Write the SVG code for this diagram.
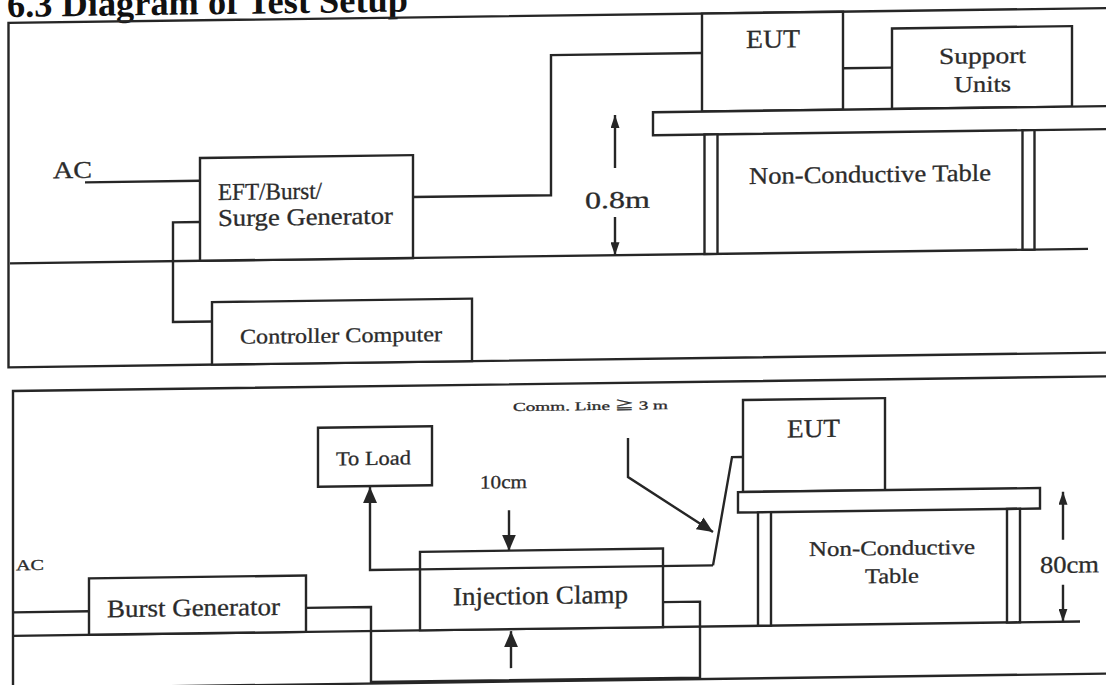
<svg xmlns="http://www.w3.org/2000/svg" width="1106" height="685" viewBox="0 0 1106 685">
<defs>
<style>
.ln{fill:none;stroke:#262626;stroke-width:2.4}
.bx{fill:#fff;stroke:#262626;stroke-width:2.4}
.t{font-family:"Liberation Serif","Times New Roman","Noto Sans CJK JP",serif;fill:#2b2b2b;stroke:#2b2b2b;stroke-width:0.3}
.ttl{font-family:"Liberation Serif","Times New Roman",serif;font-weight:bold;fill:#111}
</style>
<marker id="ahs" viewBox="0 0 10 10" refX="10" refY="5" markerWidth="13" markerHeight="9" markerUnits="userSpaceOnUse" orient="auto" preserveAspectRatio="none"><path d="M0,0 L10,5 L0,10 z" fill="#262626"/></marker>
<marker id="ahl" viewBox="0 0 10 10" refX="10" refY="5" markerWidth="16" markerHeight="14" markerUnits="userSpaceOnUse" orient="auto" preserveAspectRatio="none"><path d="M0,0 L10,5 L0,10 z" fill="#262626"/></marker>
</defs>
<rect width="1106" height="685" fill="#fff"/>
<g transform="skewY(-0.77)">
<text class="ttl" x="7" y="17" font-size="36" textLength="401" lengthAdjust="spacingAndGlyphs">6.3 Diagram of Test Setup</text>

<g id="frame-top">
<path class="ln" d="M1115,23 H8.5 V367.5 H1115"/>
<path class="ln" d="M10,263.5 H1088"/>
</g>

<g id="connectors">
<path class="ln" d="M85,183.5 H200"/>
<path class="ln" d="M413,202.6 H551 V62.5 H702"/>
<path class="ln" d="M200,224.7 H173 V324.3 H212"/>
<path class="ln" d="M843,79.6 H892"/>
<path class="ln" d="M615,176.3 V123.3" marker-end="url(#ahs)"/>
<path class="ln" d="M615,225.3 V263.5" marker-end="url(#ahs)"/>
<path class="ln" d="M13,612.5 H89"/>
<path class="ln" d="M306,612 H371 V687 H700 V611 H663"/>
<path class="ln" d="M713,575 H370 V492" marker-end="url(#ahl)"/>
<path class="ln" d="M713,575 L732,467 H743"/>
<path class="ln" d="M509,517 V557.5" marker-end="url(#ahl)"/>
<path class="ln" d="M511,675 V638" marker-end="url(#ahl)"/>
<path class="ln" d="M628,446.5 V485.5 L713,541.6" marker-end="url(#ahl)"/>
<path class="ln" d="M1063,554 V506" marker-end="url(#ahs)"/>
<path class="ln" d="M1063,599 V636" marker-end="url(#ahs)"/>
</g>

<g id="labels-top">
<text class="t" x="53" y="179" font-size="24" textLength="39" lengthAdjust="spacingAndGlyphs">AC</text>
<text class="t" x="585" y="216.3" font-size="24" textLength="65" lengthAdjust="spacingAndGlyphs">0.8m</text>
</g>

<g id="eft-generator">
<rect class="bx" x="200" y="160.7" width="213" height="102.8"/>
<text class="t" x="218" y="203" font-size="24" textLength="104" lengthAdjust="spacingAndGlyphs">EFT/Burst/</text>
<text class="t" x="218" y="229" font-size="24" textLength="175" lengthAdjust="spacingAndGlyphs">Surge Generator</text>
</g>

<g id="controller-computer">
<rect class="bx" x="212" y="305" width="260" height="62.5"/>
<text class="t" x="240" y="347" font-size="21" textLength="202" lengthAdjust="spacingAndGlyphs">Controller Computer</text>
</g>

<g id="eut-top">
<rect class="bx" x="702" y="23" width="141" height="98"/>
<text class="t" x="746" y="58" font-size="26" textLength="54" lengthAdjust="spacingAndGlyphs">EUT</text>
</g>

<g id="support-units">
<rect class="bx" x="892" y="40.5" width="180" height="80.5"/>
<text class="t" x="939" y="76.6" font-size="23" textLength="87" lengthAdjust="spacingAndGlyphs">Support</text>
<text class="t" x="954" y="105" font-size="23" textLength="57" lengthAdjust="spacingAndGlyphs">Units</text>
</g>

<g id="table-top">
<rect class="bx" x="653" y="121" width="470" height="23"/>
<rect class="bx" x="704.5" y="144" width="13" height="119.5"/>
<rect class="bx" x="1022.5" y="144" width="12" height="119.5"/>
<text class="t" x="749" y="194" font-size="24" textLength="242" lengthAdjust="spacingAndGlyphs">Non-Conductive Table</text>
</g>

<g id="frame-bottom">
<path class="ln" d="M1115,391.2 H13 V700"/>
<path class="ln" d="M13,688.5 H1115"/>
<path class="ln" d="M13,636 H1080"/>
</g>

<g id="labels-bottom">
<text class="t" x="16" y="570.4" font-size="15" textLength="28" lengthAdjust="spacingAndGlyphs">AC</text>
<text class="t" x="513" y="418" font-size="12" textLength="155" lengthAdjust="spacingAndGlyphs">Comm. Line ≧ 3 m</text>
<text class="t" x="480" y="495" font-size="19" textLength="47" lengthAdjust="spacingAndGlyphs">10cm</text>
<text class="t" x="1040" y="587" font-size="24" textLength="59" lengthAdjust="spacingAndGlyphs">80cm</text>
</g>

<g id="burst-generator">
<rect class="bx" x="89" y="579.6" width="217" height="56.4"/>
<text class="t" x="107" y="618.6" font-size="25" textLength="173" lengthAdjust="spacingAndGlyphs">Burst Generator</text>
</g>

<g id="injection-clamp">
<rect class="bx" x="420" y="557.5" width="243" height="78.5"/>
<path class="ln" d="M420,575 H663"/>
<text class="t" x="453" y="611.3" font-size="26" textLength="175" lengthAdjust="spacingAndGlyphs">Injection Clamp</text>
</g>

<g id="to-load">
<rect class="bx" x="318" y="432" width="114" height="59"/>
<text class="t" x="336" y="470" font-size="20" textLength="75" lengthAdjust="spacingAndGlyphs">To Load</text>
</g>

<g id="eut-bottom">
<rect class="bx" x="743" y="410" width="142" height="92"/>
<text class="t" x="787" y="448" font-size="26" textLength="53" lengthAdjust="spacingAndGlyphs">EUT</text>
</g>

<g id="table-bottom">
<rect class="bx" x="738" y="502" width="302" height="20.5"/>
<rect class="bx" x="758" y="522.5" width="13" height="113.5"/>
<rect class="bx" x="1007" y="522.5" width="13" height="113.5"/>
<text class="t" x="809" y="567" font-size="21" textLength="166" lengthAdjust="spacingAndGlyphs">Non-Conductive</text>
<text class="t" x="865" y="595" font-size="21" textLength="54" lengthAdjust="spacingAndGlyphs">Table</text>
</g>
</g>
</svg>
